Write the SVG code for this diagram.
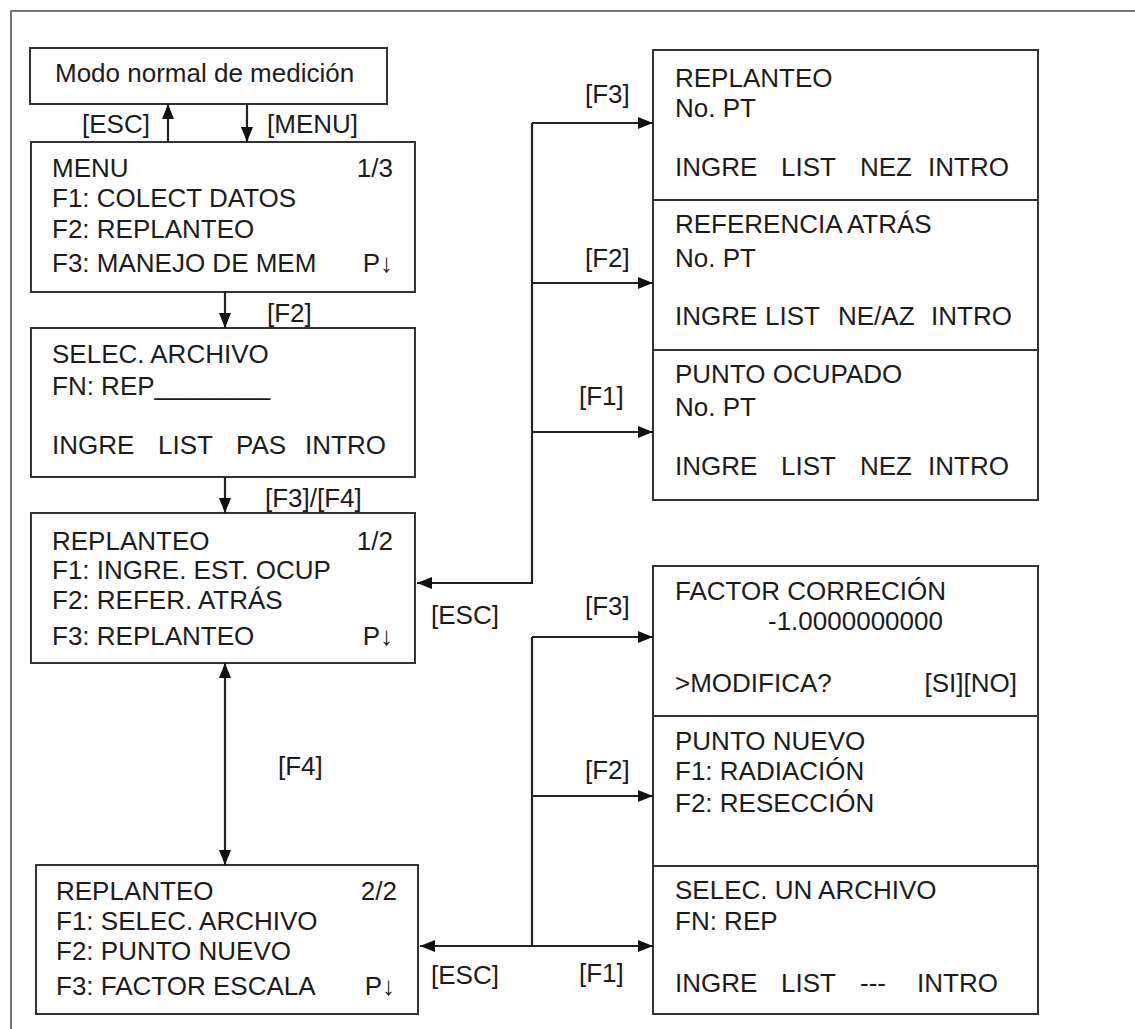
<svg xmlns="http://www.w3.org/2000/svg" width="1135" height="1029" viewBox="0 0 1135 1029">
<style>
text{font-family:"Liberation Sans",Arial,sans-serif;font-size:26px;fill:#1c1c1c}
.box{fill:#fff;stroke:#333;stroke-width:2}
.ln{fill:none;stroke:#222;stroke-width:2.2}
.end{text-anchor:end}
</style>
<defs>
<marker id="ah" viewBox="0 0 15 12" refX="15" refY="6" markerWidth="15" markerHeight="12" markerUnits="userSpaceOnUse" orient="auto-start-reverse">
<path d="M0,0 L15,6 L0,12 z" fill="#111"/>
</marker>
</defs>
<rect x="0" y="0" width="1135" height="1029" fill="#fff"/>
<rect x="11" y="11" width="1200" height="1100" fill="none" stroke="#777" stroke-width="2"/>

<g id="modo-normal">
<rect class="box" x="30" y="48" width="357" height="56"/>
<text x="55" y="82">Modo normal de medición</text>
</g>

<g id="menu">
<rect class="box" x="31" y="142" width="384" height="150"/>
<text x="52" y="177">MENU</text>
<text class="end" x="393" y="177">1/3</text>
<text x="52" y="207">F1: COLECT DATOS</text>
<text x="52" y="238">F2: REPLANTEO</text>
<text x="52" y="272">F3: MANEJO DE MEM</text>
<text class="end" x="393" y="272">P↓</text>
</g>

<g id="selec-archivo">
<rect class="box" x="31" y="328" width="384" height="149"/>
<text x="52" y="363">SELEC. ARCHIVO</text>
<text x="52" y="395">FN: REP________</text>
<text y="454"><tspan x="52">INGRE</tspan><tspan x="158">LIST</tspan><tspan x="236">PAS</tspan><tspan x="305">INTRO</tspan></text>
</g>

<g id="replanteo-1">
<rect class="box" x="31" y="513" width="384" height="150"/>
<text x="52" y="550">REPLANTEO</text>
<text class="end" x="393" y="550">1/2</text>
<text x="52" y="579">F1: INGRE. EST. OCUP</text>
<text x="52" y="609">F2: REFER. ATRÁS</text>
<text x="52" y="645">F3: REPLANTEO</text>
<text class="end" x="393" y="645">P↓</text>
</g>

<g id="replanteo-2">
<rect class="box" x="36" y="865" width="382" height="149"/>
<text x="56" y="900">REPLANTEO</text>
<text class="end" x="397" y="900">2/2</text>
<text x="56" y="930">F1: SELEC. ARCHIVO</text>
<text x="56" y="960">F2: PUNTO NUEVO</text>
<text x="56" y="995">F3: FACTOR ESCALA</text>
<text class="end" x="395" y="995">P↓</text>
</g>

<g id="replanteo-pt">
<rect class="box" x="653" y="50" width="385" height="150"/>
<text x="675" y="87">REPLANTEO</text>
<text x="675" y="117">No. PT</text>
<text y="176"><tspan x="675">INGRE</tspan><tspan x="781">LIST</tspan><tspan x="860">NEZ</tspan><tspan x="928">INTRO</tspan></text>
</g>

<g id="referencia-atras">
<rect class="box" x="653" y="200" width="385" height="150"/>
<text x="675" y="233">REFERENCIA ATRÁS</text>
<text x="675" y="267">No. PT</text>
<text y="325"><tspan x="675">INGRE</tspan><tspan x="765">LIST</tspan><tspan x="838">NE/AZ</tspan><tspan x="931">INTRO</tspan></text>
</g>

<g id="punto-ocupado">
<rect class="box" x="653" y="350" width="385" height="150"/>
<text x="675" y="383">PUNTO OCUPADO</text>
<text x="675" y="416">No. PT</text>
<text y="475"><tspan x="675">INGRE</tspan><tspan x="781">LIST</tspan><tspan x="860">NEZ</tspan><tspan x="928">INTRO</tspan></text>
</g>

<g id="factor-correcion">
<rect class="box" x="653" y="566" width="385" height="150"/>
<text x="675" y="600">FACTOR CORRECIÓN</text>
<text x="768" y="630">-1.0000000000</text>
<text x="675" y="692">&gt;MODIFICA?</text>
<text class="end" x="1017" y="692">[SI][NO]</text>
</g>

<g id="punto-nuevo">
<rect class="box" x="653" y="716" width="385" height="150"/>
<text x="675" y="750">PUNTO NUEVO</text>
<text x="675" y="780">F1: RADIACIÓN</text>
<text x="675" y="812">F2: RESECCIÓN</text>
</g>

<g id="selec-un-archivo">
<rect class="box" x="653" y="866" width="385" height="148"/>
<text x="675" y="899">SELEC. UN ARCHIVO</text>
<text x="675" y="930">FN: REP</text>
<text y="992"><tspan x="675">INGRE</tspan><tspan x="781">LIST</tspan><tspan x="860">---</tspan><tspan x="917">INTRO</tspan></text>
</g>

<g id="connectors">
<line class="ln" x1="168" y1="142" x2="168" y2="104" marker-end="url(#ah)"/>
<line class="ln" x1="247" y1="104" x2="247" y2="142" marker-end="url(#ah)"/>
<line class="ln" x1="225" y1="292" x2="225" y2="328" marker-end="url(#ah)"/>
<line class="ln" x1="225" y1="477" x2="225" y2="513" marker-end="url(#ah)"/>
<line class="ln" x1="225" y1="663" x2="225" y2="865" marker-start="url(#ah)" marker-end="url(#ah)"/>
<polyline class="ln" points="532,123 532,583 417,583" marker-end="url(#ah)"/>
<line class="ln" x1="532" y1="123" x2="653" y2="123" marker-end="url(#ah)"/>
<line class="ln" x1="532" y1="283" x2="653" y2="283" marker-end="url(#ah)"/>
<line class="ln" x1="532" y1="432" x2="653" y2="432" marker-end="url(#ah)"/>
<line class="ln" x1="532" y1="637" x2="532" y2="946"/>
<line class="ln" x1="532" y1="637" x2="653" y2="637" marker-end="url(#ah)"/>
<line class="ln" x1="532" y1="796" x2="653" y2="796" marker-end="url(#ah)"/>
<line class="ln" x1="420" y1="946" x2="653" y2="946" marker-start="url(#ah)" marker-end="url(#ah)"/>
<text x="82" y="133">[ESC]</text>
<text x="267" y="133">[MENU]</text>
<text x="267" y="322">[F2]</text>
<text x="265" y="507">[F3]/[F4]</text>
<text x="278" y="775">[F4]</text>
<text x="585" y="103">[F3]</text>
<text x="585" y="267">[F2]</text>
<text x="579" y="405">[F1]</text>
<text x="431" y="624">[ESC]</text>
<text x="585" y="615">[F3]</text>
<text x="585" y="779">[F2]</text>
<text x="579" y="982">[F1]</text>
<text x="431" y="984">[ESC]</text>
</g>
</svg>
